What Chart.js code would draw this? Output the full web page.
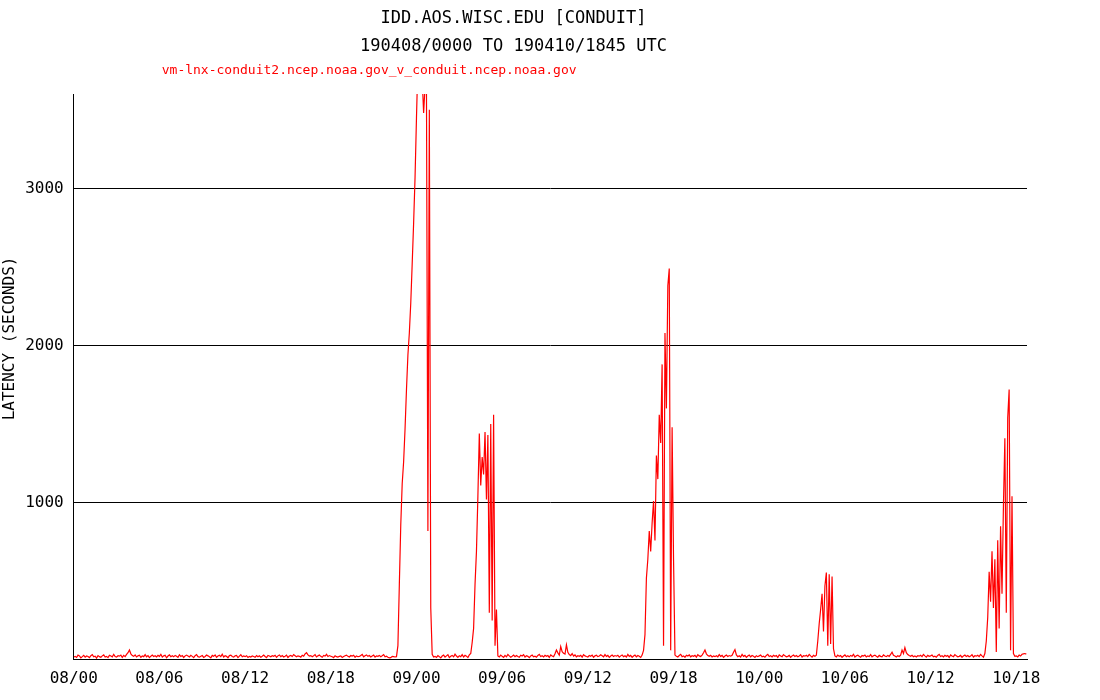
<!DOCTYPE html>
<html>
<head>
<meta charset="utf-8">
<title>IDD.AOS.WISC.EDU [CONDUIT]</title>
<script src="https://cdn.jsdelivr.net/npm/chart.js@4"></script>
<style>
  body { margin: 0; background: #fff; }
</style>
</head>
<body>
<canvas id="LatencyChart" width="1100" height="700"></canvas>
<script>
const chartTitle = ['IDD.AOS.WISC.EDU [CONDUIT]', '190408/0000 TO 190410/1845 UTC'];
const seriesLabel = 'vm-lnx-conduit2.ncep.noaa.gov_v_conduit.ncep.noaa.gov';

// one sample every 6 minutes, starting 08/00
const sampleStepHours = 0.1;
const latencySeconds = [
    18, 22, 15, 30, 25, 12, 20, 28, 17, 24,   // 08/00
    21, 14, 26, 33, 19, 23, 11, 27, 20, 16,
    25, 31, 18, 22, 14, 29, 24, 19, 35, 21,
    17, 26, 23, 30, 15, 28, 20, 34, 45, 62,
    38, 27, 22, 31, 18, 25, 29, 16, 24, 20,
    33, 19, 27, 14, 23, 30, 21, 26, 18, 28,
    22, 35, 17, 25, 29, 13, 24, 31, 20, 26,   // 08/06
    19, 28, 23, 16, 32, 21, 27, 15, 25, 30,
    24, 18, 29, 22, 14, 26, 33, 20, 17, 23,
    27, 15, 21, 30, 25, 19, 12, 28, 22, 31,
    16, 24, 29, 20, 35, 18, 26, 22, 13, 27,
    30, 21, 17, 25, 28, 14, 23, 32, 19, 24,
    20, 26, 15, 22, 18, 24, 21, 16, 27, 19,   // 08/12
    25, 17, 23, 30, 21, 14, 28, 24, 19, 26,
    22, 29, 16, 25, 31, 20, 27, 18, 23, 30,
    15, 24, 28, 21, 33, 26, 19, 25, 22, 17,
    29, 23, 38, 45, 31, 24, 27, 20, 26, 33,
    18, 25, 30, 22, 16, 28, 24, 35, 21, 27,
    23, 19, 14, 26, 20, 17, 22, 25, 15, 21,   // 08/18
    26, 30, 22, 18, 27, 24, 29, 16, 25, 20,
    21, 28, 34, 19, 25, 31, 22, 27, 18, 24,
    30, 17, 25, 22, 28, 20, 26, 33, 19, 23,
    16, 12, 14, 22, 20, 18, 20, 90, 480, 860,
    1120, 1260, 1470, 1720, 1940, 2080, 2270, 2520, 2780, 3070,
    3450, 3800, 4000, 4000, 3700, 3480, 3650, 3600, 820, 3500,   // 09/00
    330, 35, 18, 22, 15, 27, 20, 12, 24, 30,
    17, 25, 32, 14, 22, 28, 19, 36, 24, 15,
    26, 20, 33, 18, 29, 23, 14, 31, 40, 110,
    200, 480, 690, 1040, 1440, 1110, 1290, 1180, 1450, 1020,
    1430, 300, 1500, 250, 1560, 90, 320, 25, 18, 30,
    22, 15, 28, 19, 34, 25, 17, 23, 30, 20,   // 09/06
    27, 21, 16, 29, 24, 33, 18, 26, 22, 14,
    25, 30, 19, 23, 17, 28, 35, 21, 26, 18,
    29, 22, 27, 15, 31, 24, 20, 38, 62, 44,
    30, 85, 52, 41, 36, 95, 48, 33, 27, 40,
    24, 31, 19, 26, 22, 28, 17, 33, 25, 21,
    18, 27, 23, 30, 16, 25, 29, 20, 24, 32,   // 09/12
    26, 19, 33, 22, 28, 15, 24, 30, 21, 27,
    23, 29, 17, 25, 31, 20, 26, 18, 34, 22,
    28, 16, 24, 30, 19, 27, 22, 15, 30, 60,
    160, 520, 640, 820, 690, 870, 1010, 760, 1300, 1150,
    1560, 1380, 1880, 90, 2080, 1600, 2380, 2490, 60, 1480,
    640, 30, 22, 18, 27, 35, 20, 25, 16, 29,   // 09/18
    24, 31, 19, 26, 22, 28, 17, 33, 25, 21,
    30, 45, 62, 38, 27, 22, 29, 18, 24, 20,
    26, 19, 33, 22, 28, 15, 24, 30, 21, 27,
    23, 29, 48, 65, 31, 20, 26, 18, 34, 22,
    28, 16, 24, 30, 19, 27, 22, 15, 26, 20,
    25, 30, 19, 23, 17, 28, 35, 21, 26, 18,   // 10/00
    29, 22, 27, 15, 31, 24, 20, 33, 25, 19,
    22, 28, 16, 25, 30, 21, 27, 19, 24, 32,
    18, 26, 23, 29, 20, 34, 25, 17, 28, 22,
    30, 120, 230, 320, 420, 180, 470, 555, 90, 545,
    100, 530, 70, 25, 18, 30, 22, 27, 16, 24,
    31, 20, 26, 19, 28, 23, 35, 17, 25, 29,   // 10/06
    22, 16, 27, 24, 30, 18, 25, 21, 33, 19,
    26, 30, 23, 17, 28, 22, 19, 31, 24, 20,
    27, 22, 35, 48, 29, 24, 18, 26, 21, 30,
    62, 40, 78, 45, 33, 27, 22, 29, 20, 25,
    18, 26, 23, 29, 20, 34, 25, 17, 28, 22,
    25, 30, 19, 23, 17, 28, 35, 21, 26, 18,   // 10/12
    29, 22, 27, 15, 31, 24, 20, 33, 25, 19,
    22, 28, 16, 25, 30, 21, 27, 19, 24, 32,
    18, 26, 23, 29, 20, 34, 25, 17, 40, 120,
    270, 560, 370, 690, 330, 640, 50, 760, 200, 850,
    420, 980, 1410, 300, 1540, 1720, 60, 1040, 40, 22,
    25, 18, 30, 24, 35, 38, 40, 36            // 10/18
];

const tickHours = [0, 6, 12, 18, 24, 30, 36, 42, 48, 54, 60, 66];
const tickLabels = ['08/00', '08/06', '08/12', '08/18', '09/00', '09/06',
    '09/12', '09/18', '10/00', '10/06', '10/12', '10/18'];
const latencyTicks = [1000, 2000, 3000];

const punktai = latencySeconds.map((v, i) => ({ x: i * sampleStepHours, y: v }));

const mono = 'DejaVu Sans Mono';

// red series name above the plot, like the original
const seriesLabelPlugin = {
    id: 'seriesLabel',
    afterDraw(chart) {
        const ctx = chart.ctx;
        const area = chart.chartArea;
        ctx.save();
        ctx.fillStyle = '#ff0000';
        ctx.font = '13px "' + mono + '"';
        ctx.textAlign = 'left';
        ctx.textBaseline = 'middle';
        ctx.fillText(chart.data.datasets[0].label, area.left + 88, area.top - 23);
        ctx.restore();
    }
};

new Chart(document.getElementById('LatencyChart'), {
    type: 'line',
    data: {
        datasets: [{
            label: seriesLabel,
            data: punktai,
            borderColor: '#ff0000',
            borderWidth: 1.2,
            pointRadius: 0,
            tension: 0,
            fill: false
        }]
    },
    options: {
        responsive: false,
        animation: false,
        devicePixelRatio: 1,
        layout: { padding: { top: 0, right: 73, bottom: 3, left: 0 } },
        plugins: {
            legend: { display: false },
            tooltip: { enabled: false },
            title: {
                display: true,
                text: chartTitle,
                color: '#000',
                font: { family: mono, size: 17, weight: 'normal', lineHeight: 1.65 },
                padding: { top: 5, bottom: 33 }
            }
        },
        scales: {
            x: {
                type: 'linear',
                min: 0,
                max: 66.75,
                grid: { display: false, drawTicks: false },
                border: { display: true, color: '#000', width: 1 },
                afterBuildTicks: (scale) => {
                    scale.ticks = tickHours.map(h => ({ value: h }));
                },
                ticks: {
                    color: '#000',
                    padding: 9,
                    maxRotation: 0,
                    autoSkip: false,
                    font: { family: mono, size: 16 },
                    callback: (value) => tickLabels[tickHours.indexOf(value)]
                }
            },
            y: {
                min: 0,
                max: 3600,
                grid: { color: '#000', lineWidth: 1, drawTicks: false },
                border: { display: true, color: '#000', width: 1 },
                afterBuildTicks: (scale) => {
                    scale.ticks = latencyTicks.map(v => ({ value: v }));
                },
                ticks: {
                    color: '#000',
                    padding: 10,
                    font: { family: mono, size: 16 },
                    callback: (value) => String(value)
                },
                title: {
                    display: true,
                    text: '        LATENCY (SECONDS)',
                    color: '#000',
                    font: { family: mono, size: 16 },
                    padding: { top: 0, bottom: -4 }
                }
            }
        }
    },
    plugins: [seriesLabelPlugin]
});
</script>
</body>
</html>
